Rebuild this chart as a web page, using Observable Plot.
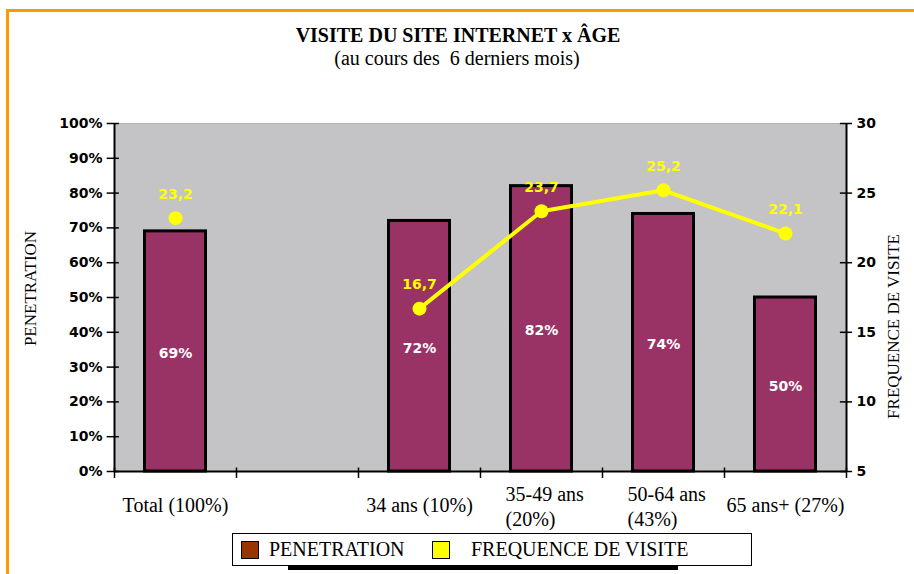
<!DOCTYPE html>
<html><head><meta charset="utf-8">
<script src="https://cdn.jsdelivr.net/npm/d3@7"></script>
<script src="https://cdn.jsdelivr.net/npm/@observablehq/plot@0.6"></script>
<style>
body{margin:0;background:#fff;}
#page{position:relative;width:914px;height:574px;overflow:hidden;font-family:"Liberation Serif","Times New Roman",serif;background:#fff;}
#btop{position:absolute;left:6px;top:9px;width:910px;height:3px;background:#ff9900;}
#bleft{position:absolute;left:6px;top:9px;width:3px;height:570px;background:#ff9900;}
#title{position:absolute;left:0;top:22px;width:916px;text-align:center;font-size:20px;font-weight:bold;line-height:26px;}
#subtitle{position:absolute;left:0;top:46px;width:914px;text-align:center;font-size:20px;line-height:24px;white-space:pre;}
#chart{position:absolute;left:0;top:110px;}
#legend{position:absolute;left:232px;top:533px;width:518px;height:31px;border:1.5px solid #000;background:#fff;}
#shadow{position:absolute;left:288px;top:566px;width:390px;height:4px;background:#000;}
.sw{position:absolute;top:7px;width:16px;height:16px;border:1.5px solid #000;}
.lt{position:absolute;top:3px;font-size:20px;line-height:24px;white-space:nowrap;}
</style></head><body>
<div id="page">
  <div id="btop"></div><div id="bleft"></div>
  <div id="title">VISITE DU SITE INTERNET x ÂGE</div>
  <div id="subtitle">(au cours des  6 derniers mois)</div>
  <div id="chart"></div>
  <div id="shadow"></div>
  <div id="legend">
    <div class="sw" style="left:8px;background:#993300"></div>
    <div class="lt" style="left:36px">PENETRATION</div>
    <div class="sw" style="left:199px;background:#ffff00"></div>
    <div class="lt" style="left:238px">FREQUENCE DE VISITE</div>
  </div>
</div>
<script>
const categories = ["Total (100%)", "", "34 ans (10%)", "35-49 ans\n(20%)", "50-64 ans\n(43%)", "65 ans+ (27%)"];
const penetration = [69, null, 72, 82, 74, 50];
const frequence = [23.2, null, 16.7, 23.7, 25.2, 22.1];
const lineGroup = [false, false, true, true, true, true];
const penTicks = [0, 10, 20, 30, 40, 50, 60, 70, 80, 90, 100];
const freqTicks = [5, 10, 15, 20, 25, 30];

const rows = categories.map((c, i) => ({i, c, pen: penetration[i], freq: frequence[i], inLine: lineGroup[i]}));
const f2y = d3.scaleLinear([5, 30], [0, 100]);
const boundaries = d3.range(categories.length + 1);
const serif = "Liberation Serif";
const sans = "DejaVu Sans";

const bars = rows.filter(d => d.pen != null);
const pts = rows.filter(d => d.freq != null);
const linePts = rows.filter(d => d.inLine);
const oneLine = rows.filter(d => d.c && !d.c.includes("\n"));
const twoLine = rows.filter(d => d.c.includes("\n"));

const chart = Plot.plot({
  width: 914, height: 420,
  marginTop: 13, marginBottom: 59, marginLeft: 114, marginRight: 68,
  style: {fontFamily: sans, fontSize: "14px", fontWeight: "bold", background: "transparent", color: "#000"},
  x: {type: "linear", domain: [0, categories.length], axis: null},
  y: {domain: [0, 100], axis: null},
  marks: [
    Plot.frame({fill: "#c4c3c6", stroke: "#b0b0b0"}),
    Plot.rectY(bars, {x1: d => d.i + 0.25, x2: d => d.i + 0.75, y: "pen", fill: "#993366", stroke: "#000", strokeWidth: 3}),
    Plot.text(bars, {x: d => d.i + 0.5, y: d => d.pen / 2, dy: 2, text: d => d.pen + "%", fill: "#fff", fontFamily: sans, fontSize: 14, fontWeight: "bold"}),
    Plot.ruleX([0, categories.length], {stroke: "#000", strokeWidth: 2}),
    Plot.ruleY([0], {stroke: "#000", strokeWidth: 2}),
    Plot.ruleX(boundaries, {y1: -2, y2: 1, stroke: "#000", strokeWidth: 1.5}),
    Plot.ruleY(penTicks, {x1: -0.06, x2: 0.04, stroke: "#000", strokeWidth: 1.5}),
    Plot.ruleY(freqTicks, {y: d => f2y(d), x1: categories.length - 0.05, x2: categories.length + 0.05, stroke: "#000", strokeWidth: 1.5}),
    Plot.axisY({anchor: "left", label: null, ticks: penTicks, tickSize: 0, tickPadding: 12, tickFormat: d => d + "%", fontFamily: sans, fontSize: 14, fontWeight: "bold"}),
    Plot.axisY({anchor: "right", label: null, ticks: freqTicks.map(f2y), tickSize: 0, tickPadding: 10, tickFormat: d => String(Math.round(f2y.invert(d))), fontFamily: sans, fontSize: 14, fontWeight: "bold"}),
    Plot.line(linePts, {x: d => d.i + 0.5, y: d => f2y(d.freq), stroke: "#ffff00", strokeWidth: 4}),
    Plot.dot(pts, {x: d => d.i + 0.5, y: d => f2y(d.freq), r: 7, fill: "#ffff00", stroke: "none"}),
    Plot.text(pts, {x: d => d.i + 0.5, y: d => f2y(d.freq), dy: -24, text: d => String(d.freq).replace(".", ","), fill: "#ffff00", fontFamily: sans, fontSize: 14, fontWeight: "bold"}),
    Plot.text(oneLine, {x: d => d.i + 0.5, y: 0, dy: 34, text: "c", fill: "#000", fontFamily: serif, fontSize: 20, fontWeight: "normal", lineAnchor: "middle"}),
    Plot.text(twoLine, {x: d => d.i + 0.5, y: 0, dy: 34, dx: -36, text: "c", textAnchor: "start", lineHeight: 1.25, fill: "#000", fontFamily: serif, fontSize: 20, fontWeight: "normal", lineAnchor: "middle"}),
    Plot.text(["PENETRATION"], {frameAnchor: "left", dx: -84, dy: -9, rotate: -90, textAnchor: "middle", text: d => d, fill: "#000", fontFamily: serif, fontSize: 17, fontWeight: "normal"}),
    Plot.text(["FREQUENCE DE VISITE"], {frameAnchor: "right", dx: 47, dy: 29, rotate: -90, textAnchor: "middle", text: d => d, fill: "#000", fontFamily: serif, fontSize: 17, fontWeight: "normal"})
  ]
});
document.getElementById("chart").appendChild(chart);
</script>
</body></html>
